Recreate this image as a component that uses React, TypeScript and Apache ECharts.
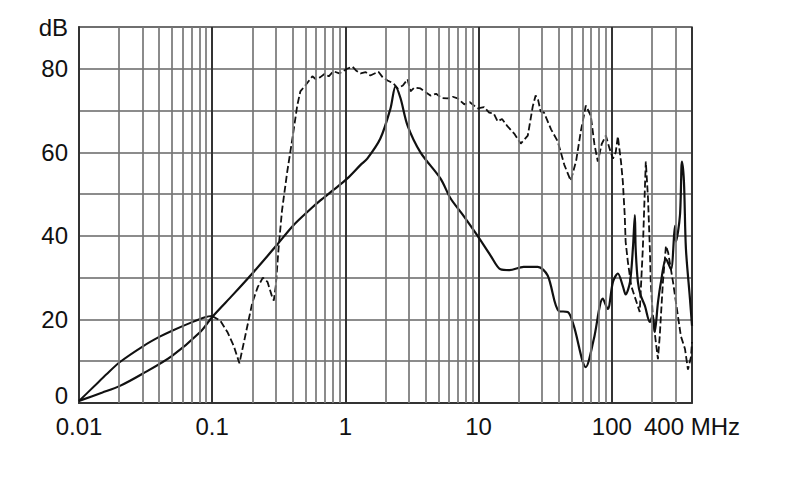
import { useEffect, useRef } from 'react'
import * as echarts from 'echarts'

// frequency in MHz, level in dB
const solidCurve: [number, number][] = [
  [0.01, 0.5], [0.015, 2.5], [0.0203, 4.1], [0.03, 7], [0.05, 11.3], [0.0813, 17], [0.1, 20.6],
  [0.144, 26], [0.2, 31], [0.3, 37.5], [0.406, 42.5], [0.55, 46.5], [0.649, 48.5], [0.813, 51],
  [1.03, 53.7], [1.3, 57], [1.46, 58.5], [1.83, 63.3], [2.18, 70.5], [2.38, 75.8], [2.59, 73],
  [2.93, 66.4], [3.66, 60], [5.18, 53.7], [6.15, 49], [7.71, 44.8], [9.83, 40], [12.3, 35.3],
  [14.6, 32], [17, 31.8], [21.8, 32.6], [27.8, 32.6], [33, 30.5], [40, 22], [46.7, 21.8],
  [51.8, 18.5], [63.8, 8.6], [73.3, 15.3], [85.6, 25], [93.3, 22.5], [102, 29], [111, 31],
  [121, 28], [127, 26], [137, 29], [144, 37], [149, 45], [151, 37], [157, 29], [165, 25.7],
  [177, 23.3], [193, 19.4], [203, 21], [210, 17], [222, 24], [234, 29], [255, 34.5], [278, 32],
  [298, 42.4], [303, 38.6], [325, 45], [336, 57.8], [348, 53], [360, 37], [386, 25], [400, 18.5],
]

const dashedStart: [number, number][] = [
  [0.01, 0.5], [0.013, 4], [0.016, 6.8], [0.0203, 9.8], [0.03, 13.5], [0.04, 15.8], [0.05, 17.3],
  [0.07, 19.3], [0.09, 20.6], [0.1, 20.8],
]

const dashedCurve: [number, number][] = [
  [0.1, 20.8], [0.115, 19.7], [0.13, 17], [0.145, 13.7], [0.16, 9.5], [0.175, 15.3], [0.2, 24],
  [0.22, 27.8], [0.24, 30], [0.26, 29], [0.28, 25.7], [0.29, 24.5], [0.3, 28], [0.315, 37],
  [0.334, 46], [0.366, 55.4], [0.4, 63.3], [0.435, 71.2], [0.459, 74.6], [0.5, 76], [0.565, 78.2],
  [0.6, 77.5], [0.649, 78], [0.7, 78.8], [0.75, 78.2], [0.813, 79.4], [0.9, 78.9], [1.03, 80],
  [1.13, 80.5], [1.2, 79.6], [1.3, 78.9], [1.42, 79.2], [1.54, 78.4], [1.77, 79.3], [1.9, 78],
  [2.07, 77.2], [2.3, 76.5], [2.46, 75.3], [2.7, 76], [2.93, 77.5], [3.08, 74.6], [3.3, 75.5],
  [3.66, 75.3], [4, 74.4], [4.35, 73.6], [4.8, 74], [5.3, 73], [5.85, 72.9], [6.4, 73.3],
  [6.95, 72.9], [7.8, 71.5], [8.6, 72], [9.83, 70.5], [11, 70.8], [12, 69.5], [13, 69.3],
  [13.9, 67.4], [15, 68], [16.5, 66.2], [18.5, 64.5], [20.7, 62.1], [23.4, 64], [25.5, 71],
  [26.8, 73.6], [28, 72.5], [29.2, 69.8], [31, 69.5], [35, 65.5], [39.3, 62.6], [44, 57],
  [49.2, 53.2], [54, 58], [58.5, 65], [63.8, 71.2], [69.5, 68.8], [74, 62], [78.5, 57.8],
  [84, 62], [90.2, 64], [96, 61], [102, 58.5], [107, 60], [111, 63.8], [117, 58], [121, 53],
  [125, 45], [127, 38.6], [132, 33.8], [140, 28], [162, 21.8], [171, 37], [180, 57.8], [187, 49],
  [193, 37], [196, 29], [203, 21], [214, 14.6], [222, 10.5], [229, 16], [242, 29], [255, 37.6],
  [265, 36], [288, 29], [313, 21], [330, 16], [354, 13], [373, 8], [393, 11], [400, 14.6],
]

// vertical grid lines between the decades
const minorFreqs = [
  0.02, 0.03, 0.04, 0.05, 0.06, 0.07, 0.08, 0.09,
  0.2, 0.3, 0.4, 0.5, 0.6, 0.7, 0.8, 0.9,
  2, 3, 4, 5, 6, 7, 8, 9,
  20, 30, 40, 50, 60, 70, 80, 90,
  200, 300,
]

const xLabels: Record<string, string> = {
  '0.01': '0.01', '0.1': '0.1', '1': '1', '10': '10', '100': '100', '400': '400 MHz',
}

const FONT = '"Liberation Sans", Arial, sans-serif'

export default function App() {
  const ref = useRef<HTMLDivElement>(null)

  useEffect(() => {
    if (!ref.current) return
    const chart = echarts.init(ref.current, undefined, { renderer: 'svg' })
    chart.setOption({
      animation: false,
      backgroundColor: '#fff',
      grid: {
        left: 79, right: 98, top: 27, bottom: 96,
        show: true, borderColor: '#666', borderWidth: 1.7, backgroundColor: 'transparent',
      },
      xAxis: {
        type: 'log', logBase: 10, min: 0.01, max: 400,
        axisLine: { show: true, lineStyle: { color: '#333', width: 2 } },
        axisTick: { show: false },
        axisLabel: {
          color: '#111', fontSize: 24, fontFamily: FONT, margin: 11,
          showMinLabel: true, showMaxLabel: true,
          formatter: (v: number) => {
            const k = String(Number(v.toPrecision(3)))
            return xLabels[k] ?? ''
          },
        },
        splitLine: { show: true, lineStyle: { color: '#333', width: 2 } },
      },
      yAxis: {
        type: 'value', min: 0, max: 90, interval: 10,
        axisLine: { show: true, lineStyle: { color: '#333', width: 2 } },
        axisTick: { show: false },
        axisLabel: {
          color: '#111', fontSize: 24, fontFamily: FONT, margin: 11,
          formatter: (v: number) =>
            v === 0 ? '{zero|0}' : v === 90 ? 'dB' : v % 20 === 0 ? String(v) : '',
          rich: {
            zero: { color: '#111', fontSize: 24, fontFamily: FONT, padding: [0, 0, 16, 0] },
          },
        },
        splitLine: { show: true, lineStyle: { color: '#666', width: 1.7 } },
      },
      series: [
        {
          type: 'line', data: [], z: 1, silent: true,
          markLine: {
            silent: true, symbol: 'none', label: { show: false }, animation: false,
            lineStyle: { color: '#777', width: 1.7, type: 'solid' },
            data: minorFreqs.map((f) => ({ xAxis: f })),
          },
        },
        {
          type: 'line', data: dashedStart, z: 3, showSymbol: false, smooth: 0.3,
          lineStyle: { color: '#111', width: 2 },
        },
        {
          type: 'line', data: dashedCurve, z: 3, showSymbol: false,
          lineStyle: { color: '#111', width: 1.8, type: [7, 3] },
        },
        {
          type: 'line', data: solidCurve, z: 4, showSymbol: false, smooth: 0.3,
          lineStyle: { color: '#111', width: 2.2 },
        },
      ],
    })
    return () => chart.dispose()
  }, [])

  return (
    <div
      ref={ref}
      style={{ position: 'fixed', left: 0, top: 0, width: 790, height: 499, background: '#fff' }}
    />
  )
}
